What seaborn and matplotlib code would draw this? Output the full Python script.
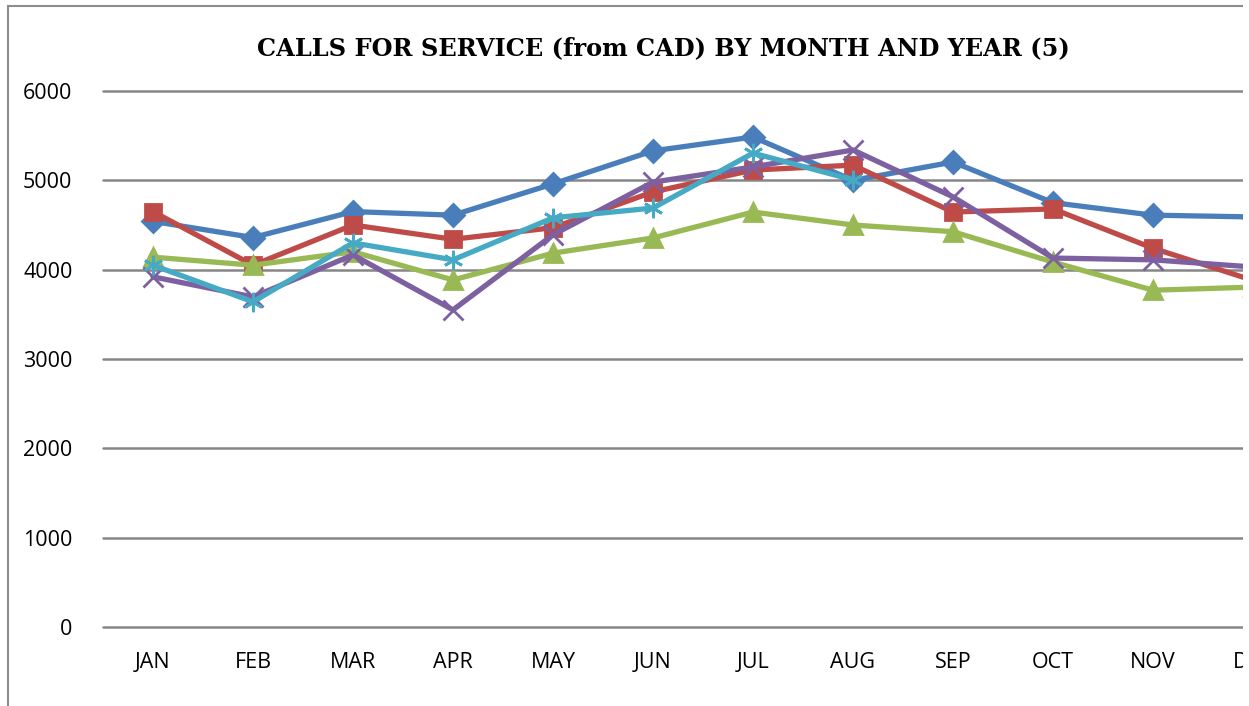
import pandas as pd
import seaborn as sns
import matplotlib.pyplot as plt
from matplotlib.patches import Rectangle

months = ['JAN', 'FEB', 'MAR', 'APR', 'MAY', 'JUN', 'JUL', 'AUG', 'SEP', 'OCT', 'NOV', 'DEC']

# five years (no legend visible)
year1 = [4540, 4360, 4650, 4610, 4960, 5330, 5485, 5000, 5205, 4750, 4610, 4590]
year2 = [4650, 4050, 4500, 4340, 4470, 4870, 5115, 5170, 4645, 4680, 4240, 3880]
year3 = [4140, 4050, 4200, 3885, 4185, 4355, 4645, 4500, 4425, 4085, 3770, 3805]
year4 = [3920, 3695, 4165, 3550, 4390, 4980, 5150, 5340, 4815, 4130, 4110, 4030]
year5 = [4050, 3640, 4300, 4110, 4580, 4690, 5305, 5005]

series = [year1, year2, year3, year4, year5]
colors = ['#4A7EBB', '#BE4B48', '#98B954', '#7D60A0', '#46AAC5']
markers = ['D', 's', '^', 'x', (6, 2, 0)]
msizes = [11, 12, 13, 14, 14]

sns.set_style('white')
plt.rcParams['font.family'] = ['Open Sans', 'DejaVu Sans']

fig = plt.figure(figsize=(12.49, 7.06), dpi=100)
# plot area: JAN..DEC centred at 153..1253 px, 0..6000 at 627..91 px
ax = fig.add_axes([103 / 1249, 1 - 627 / 706, 1200 / 1249, 536 / 706])

for i, vals in enumerate(series):
    df = pd.DataFrame({'month': list(range(len(vals))), 'calls': vals})
    sns.lineplot(data=df, x='month', y='calls', ax=ax, color=colors[i],
                 marker=markers[i], markersize=msizes[i], linewidth=3.8,
                 markeredgecolor=colors[i], markeredgewidth=2.0, legend=False)

ax.set_xlim(-0.5, 11.5)
ax.set_ylim(0, 6000)
ax.set_yticks(range(0, 6001, 1000))
ax.set_xticks(range(12))
ax.set_xticklabels(months)
ax.grid(axis='y', color='#868686', linewidth=1.8)
for gl in ax.get_ygridlines():
    gl.set_clip_on(False)
ax.set_axisbelow(True)
for s in ax.spines.values():
    s.set_visible(False)
ax.tick_params(axis='both', length=0, labelsize=15.5, colors='black')
ax.tick_params(axis='x', pad=18)
ax.tick_params(axis='y', pad=22)
ax.set_xlabel('')
ax.set_ylabel('')

fig.text(663 / 1249, 1 - 48 / 706, 'CALLS FOR SERVICE (from CAD) BY MONTH AND YEAR (5)',
         ha='center', va='center', fontsize=17.3, fontweight='bold', color='black',
         family=['DejaVu Serif'])

# chart frame (cut off at right and bottom)
fig.patches.append(Rectangle((8 / 1249, -0.1), 1.2, 1 - 6 / 706 + 0.1,
                             transform=fig.transFigure, fill=False,
                             edgecolor='#8c8c8c', linewidth=1.5, zorder=10))
fig.patches.append(Rectangle((1243 / 1249, 0), 0.1, 1, transform=fig.transFigure,
                             facecolor='white', edgecolor='none', zorder=20))

fig.savefig('out.png', dpi=100)
